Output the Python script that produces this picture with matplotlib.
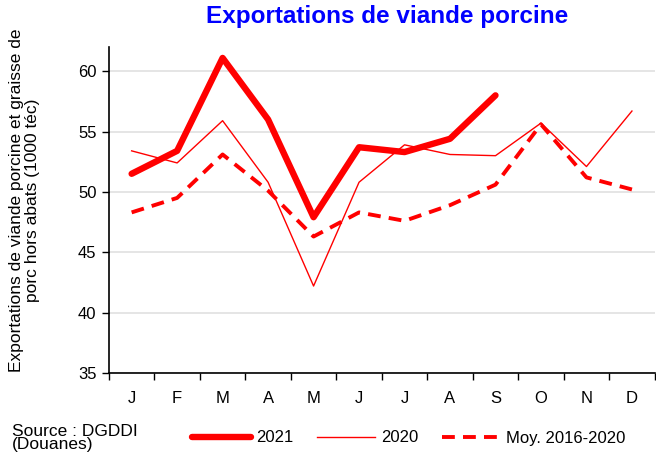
import numpy as np
import matplotlib.pyplot as plt

plt.rcParams['font.family'] = ['Liberation Sans', 'DejaVu Sans']

#-----
# Data
months = ['J', 'F', 'M', 'A', 'M', 'J', 'J', 'A', 'S', 'O', 'N', 'D']
y2021 = [51.5, 53.4, 61.1, 56.0, 47.9, 53.7, 53.3, 54.4, 58.0]
y2020 = [53.4, 52.4, 55.9, 50.8, 42.2, 50.8, 53.9, 53.1, 53.0, 55.7, 52.1, 56.7]
ymoy = [48.3, 49.5, 53.1, 50.1, 46.3, 48.3, 47.6, 48.9, 50.6, 55.6, 51.2, 50.2]
#-----

fig = plt.figure(figsize=(6.56, 4.57), dpi=100)
ax = fig.add_axes([0.166, 0.184, 0.832, 0.713])

x = np.arange(len(months)) + 0.5
ax.plot(x[:len(y2021)], y2021, color='#FF0000', lw=4.6, solid_capstyle='round',
        solid_joinstyle='round', label='2021', zorder=4)
ax.plot(x, y2020, color='#FF0000', lw=1.0, label='2020', zorder=3)
ax.plot(x, ymoy, color='#FF0000', lw=2.8, dashes=(3.3, 2.1), label='Moy. 2016-2020', zorder=3)

ax.set_xlim(0, 12)
ax.set_ylim(35, 62)
ax.set_yticks([35, 40, 45, 50, 55, 60])
ax.set_xticks(np.arange(13))
ax.set_xticklabels([])
ax.set_xticks(x, minor=True)
ax.set_xticklabels(months, minor=True)
ax.tick_params(axis='x', which='minor', length=0, pad=13, labelsize=12)
ax.tick_params(axis='x', which='major', length=5, width=1, direction='out')
ax.tick_params(axis='y', length=5, width=1, direction='out', labelsize=12, pad=4)
ax.yaxis.grid(True, color='#E0E0E0', lw=1.2)
ax.set_axisbelow(True)
for s in ['top', 'right']:
    ax.spines[s].set_visible(False)
for s in ['left', 'bottom']:
    ax.spines[s].set_linewidth(1.2)

fig.text(24.5 / 656, 1 - 200 / 457,
         'Exportations de viande porcine et graisse de\nporc hors abats (1000 téc)',
         fontsize=12.5, rotation=90, ha='center', va='center', linespacing=1.05)

fig.text(387.5 / 656, 1 - 17 / 457, 'Exportations de viande porcine', color='#0000FF',
         fontsize=17.5, fontweight='bold', ha='center', va='center')

fig.text(12 / 656, 1 - 438 / 457, 'Source : DGDDI\n(Douanes)', fontsize=12.5,
         linespacing=0.9, va='center')
fig.legend(loc='center left', bbox_to_anchor=(184 / 656, 1 - 438 / 457), ncol=3,
           frameon=False, borderpad=0, fontsize=12, handlelength=3.5,
           handletextpad=0.35, columnspacing=1.4)

fig.savefig('out.png', dpi=100)
